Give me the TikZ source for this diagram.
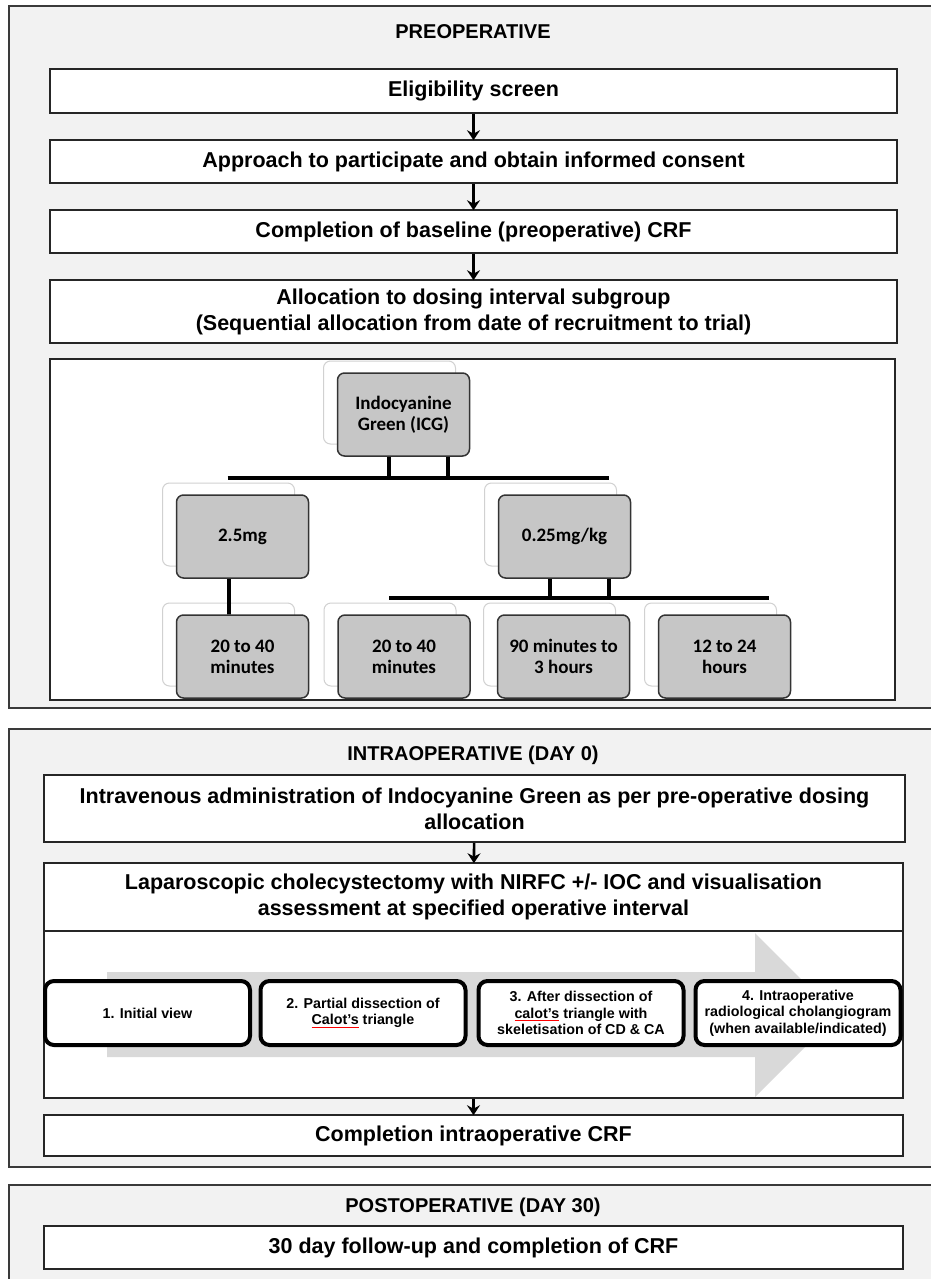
\documentclass[tikz,border=0pt]{standalone}
\usepackage{fontspec}
\setmainfont{Liberation Sans}
\newfontfamily\smartfont{Carlito}
\usetikzlibrary{arrows.meta,shadows}

\definecolor{panel}{HTML}{F2F2F2}
\definecolor{edge}{HTML}{3A3A3A}
\definecolor{chev}{HTML}{D9D9D9}
\definecolor{tilegray}{HTML}{C6C6C6}

% red spell-check underline
\newsavebox\spellbox
\newcommand\spellchk[1]{\sbox\spellbox{#1}\rlap{\textcolor{red}{\rule[-3pt]{\wd\spellbox}{1.2pt}}}\usebox\spellbox}

\tikzset{
  frame/.style={draw=edge, fill=panel, line width=1.5pt},
  head/.style={font=\bfseries\fontsize{20}{24}\selectfont},
  box/.style={draw=black!85, fill=white, line width=1.6pt, minimum width=847pt,
    inner sep=0pt, align=center, font=\bfseries\fontsize{21.5}{26}\selectfont},
  flow/.style={-{Stealth[length=10pt,width=13pt,inset=3.5pt]}, line width=2.6pt, shorten >=-1pt},
  tile/.style={draw=black!80, fill=tilegray, line width=1.5pt, rounded corners=7pt,
    minimum width=132pt, minimum height=83pt, inner sep=0pt, align=center,
    font=\smartfont\bfseries\fontsize{19}{21}\selectfont,
    general shadow={shadow xshift=-14pt, shadow yshift=12pt, fill=white, draw=black!18, line width=1pt}},
  twig/.style={line width=4pt},
  stepbox/.style={draw=black, fill=white, line width=4pt, rounded corners=9pt,
    minimum width=205pt, minimum height=64pt, inner sep=0pt, align=center,
    font=\bfseries\fontsize{14.3}{16.5}\selectfont},
}

\begin{document}
\begin{tikzpicture}[x=1pt,y=-1pt]
\useasboundingbox (0,0) rectangle (931,1279);
\clip (0,0) rectangle (931,1279);
\fill[white] (0,0) rectangle (931,1279);

% preoperative
\draw[frame] (9,6) rectangle (950,708);
\node[head] (preop) at (473,32) {PREOPERATIVE};
\node[box, minimum height=44pt] (elig) at (473.5,91) {Eligibility screen};
\node[box, minimum height=43pt] (consent) at (473.5,161.5) {Approach to participate and obtain informed consent};
\node[box, minimum height=43pt] (baseline) at (473.5,231.5) {Completion of baseline (preoperative) CRF};
\node[box, minimum height=63pt] (alloc) at (473.5,311.5) {Allocation to dosing interval subgroup\\(Sequential allocation from date of recruitment to trial)};
\draw[flow] (elig) -- (consent);
\draw[flow] (consent) -- (baseline);
\draw[flow] (baseline) -- (alloc);

% dosing tree
\node[box, minimum width=845pt, minimum height=341pt] (treebox) at (472.5,529.5) {};
\node[tile] (icg) at (403.5,414.5) {Indocyanine\\Green (ICG)};
\node[tile] (dose25) at (242.5,536.5) {2.5mg};
\node[tile] (dosekg) at (564.5,536.5) {0.25mg/kg};
\node[tile] (win1) at (242.5,656.5) {20 to 40\\minutes};
\node[tile] (win2) at (404,656.5) {20 to 40\\minutes};
\node[tile] (win3) at (563.5,656.5) {90 minutes to\\3 hours};
\node[tile] (win4) at (724.5,656.5) {12 to 24\\hours};
\coordinate (bar1) at (0,478);
\coordinate (bar2) at (0,598);
\draw[twig] ([xshift=-15pt]icg.south) -- ([xshift=-15pt]icg.south |- bar1);
\draw[twig] ([xshift=44pt]icg.south) -- ([xshift=44pt]icg.south |- bar1);
\draw[twig] ([xshift=-15pt]dose25.south |- bar1) -- ([xshift=44pt]dosekg.south |- bar1);
\draw[twig] ([xshift=-14pt]dose25.south) -- ([xshift=-14pt]dose25.south |- win1.north) -- ++(0,-13);
\draw[twig] ([xshift=-15pt]dosekg.south) -- ([xshift=-15pt]dosekg.south |- bar2);
\draw[twig] ([xshift=44pt]dosekg.south) -- ([xshift=44pt]dosekg.south |- bar2);
\draw[twig] ([xshift=-15pt]win2.north |- bar2) -- ([xshift=44pt]win4.north |- bar2);

% intraoperative
\draw[frame] (9,729) rectangle (950,1167);
\node[head] (intraop) at (473,755) {INTRAOPERATIVE (DAY 0)};
\node[box, minimum width=861pt, minimum height=67pt] (iv) at (474.5,808.5) {Intravenous administration of Indocyanine Green as per pre-operative dosing\\allocation};
\node[box, minimum width=859pt, minimum height=68pt] (lap) at (473.5,897) {Laparoscopic cholecystectomy with NIRFC +/- IOC and visualisation\\assessment at specified operative interval};
\node[box, minimum width=859pt, minimum height=167pt] (lapbody) at (473.5,1014.5) {};
\fill[chev] (107,972) -- (755,972) -- (755,933) -- (837,1015) -- (755,1097) -- (755,1057) -- (107,1057) -- cycle;
\node[stepbox] (view1) at (147.5,1013) {1. Initial view};
\node[stepbox] (view2) at (363,1013) {2. Partial dissection of\\\spellchk{Calot's} triangle};
\node[stepbox] (view3) at (581,1013) {3. After dissection of\\\spellchk{calot's} triangle with\\skeletisation of CD \& CA};
\node[stepbox] (view4) at (798,1013) {4. Intraoperative\\radiological cholangiogram\\(when available/indicated)};
\node[box, minimum width=859pt, minimum height=41pt] (crf) at (473.5,1135.5) {Completion intraoperative CRF};
\draw[flow] (iv) -- (lap);
\draw[flow] (lapbody) -- (crf);

% postoperative
\draw[frame] (9,1185) rectangle (950,1300);
\node[head] (postop) at (473,1207) {POSTOPERATIVE (DAY 30)};
\node[box, minimum width=859pt, minimum height=43pt] (followup) at (473.5,1247.5) {30 day follow-up and completion of CRF};
\end{tikzpicture}
\end{document}
